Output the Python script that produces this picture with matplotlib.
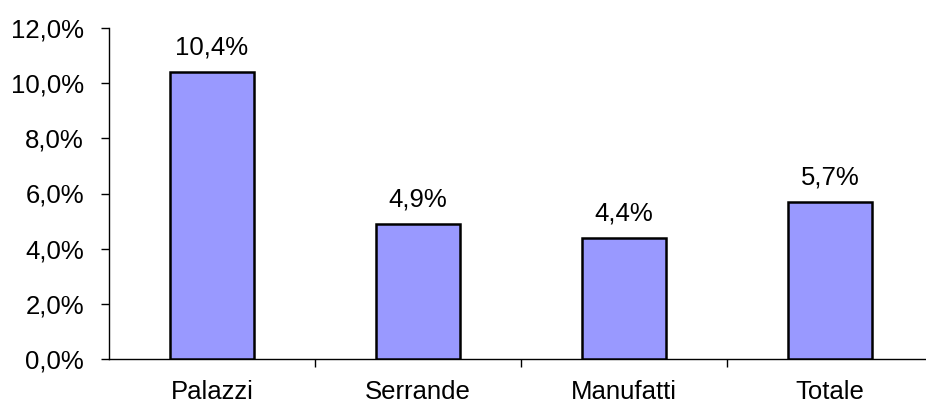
import matplotlib.pyplot as plt
from matplotlib.ticker import FuncFormatter

categories = ["Palazzi", "Serrande", "Manufatti", "Totale"]
values = [10.4, 4.9, 4.4, 5.7]
y_ticks = [0, 2, 4, 6, 8, 10, 12]


def pct(v, pos=None):
    return f"{v:.1f}%".replace(".", ",")


plt.rcParams["font.family"] = ["Liberation Sans", "DejaVu Sans"]
plt.rcParams["font.size"] = 18.5

fig = plt.figure(figsize=(9.26, 4.03), dpi=100)
ax = fig.add_axes([109 / 926, 44 / 403, 824 / 926, 331 / 403])

x = list(range(len(categories)))
bars = ax.bar(x, values, width=0.41, color="#9999FF", edgecolor="black", linewidth=1.8, zorder=3)

for b, v in zip(bars, values):
    ax.annotate(pct(v), (b.get_x() + b.get_width() / 2, v), xytext=(0, 9),
                textcoords="offset points", ha="center", va="bottom")

ax.set_xlim(-0.5, 3.5)
ax.set_ylim(0, 12)
ax.set_yticks(y_ticks)
ax.yaxis.set_major_formatter(FuncFormatter(pct))

# categories labelled at centers, ticks at boundaries
ax.set_xticks([0.5, 1.5, 2.5])
ax.set_xticklabels([])
ax.set_xticks(x, minor=True)
ax.set_xticklabels(categories, minor=True)
ax.tick_params(axis="x", which="minor", length=0, pad=15)
ax.tick_params(axis="x", which="major", length=6, width=1)
ax.tick_params(axis="y", length=6, width=1, pad=12)

for side in ["top", "right"]:
    ax.spines[side].set_visible(False)
for side in ["left", "bottom"]:
    ax.spines[side].set_linewidth(1)

fig.savefig("out.png", dpi=100)
